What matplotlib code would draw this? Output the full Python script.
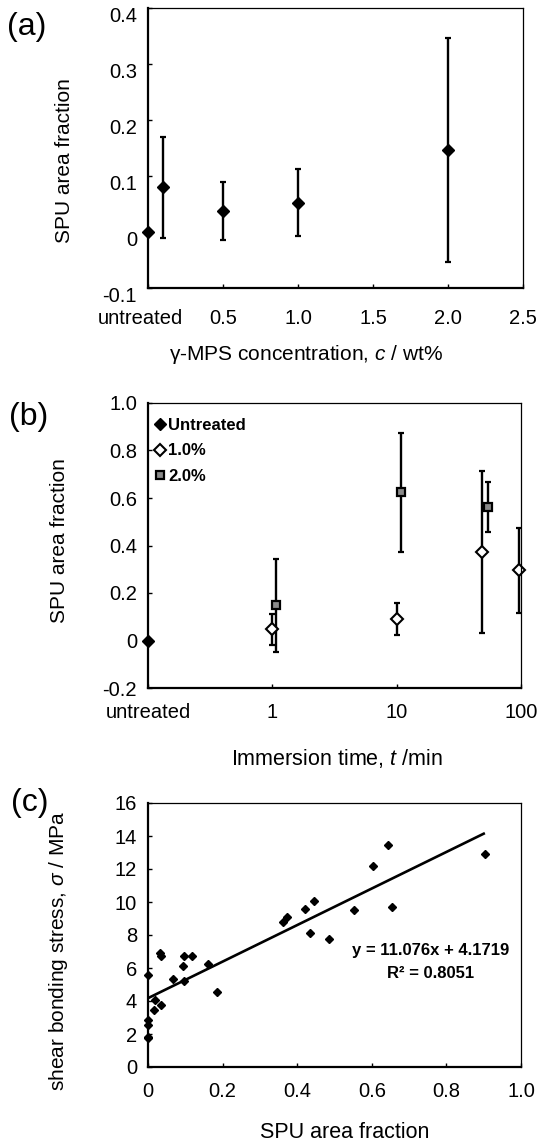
import numpy as np
import matplotlib
matplotlib.use("Agg")
import matplotlib.pyplot as plt
from matplotlib.transforms import ScaledTranslation

plt.rcParams['font.family'] = ['Liberation Sans', 'DejaVu Sans']
plt.rcParams['mathtext.fontset'] = 'custom'
plt.rcParams['mathtext.rm'] = 'Liberation Sans'
plt.rcParams['mathtext.it'] = 'Liberation Sans:italic'
plt.rcParams['mathtext.bf'] = 'Liberation Sans:bold'

# (a) SPU area fraction vs gamma-MPS concentration
conc_untreated = [0.0]
frac_untreated_a = [0.0]
conc = [0.1, 0.5, 1.0, 2.0]
frac_a = [0.080, 0.037, 0.052, 0.147]
err_a = [0.090, 0.052, 0.060, 0.200]

# (b) SPU area fraction vs immersion time (untreated drawn at t = 0.1)
time_untreated = [0.1]
frac_untreated_b = [0.0]
time_10 = [1.0, 10.0, 49.0, 97.0]
frac_10 = [0.048, 0.090, 0.373, 0.295]
err_10 = [0.065, 0.067, 0.340, 0.178]
time_20 = [1.07, 10.8, 54.0]
frac_20 = [0.148, 0.624, 0.562]
err_20 = [0.196, 0.250, 0.107]

# (c) shear bonding stress vs SPU area fraction
spu_c = [0.0, 0.0, 0.0, 0.0, 0.0, 0.018, 0.015, 0.034, 0.032, 0.036, 0.067,
         0.094, 0.097, 0.097, 0.118, 0.162, 0.185, 0.361, 0.372, 0.421, 0.433,
         0.444, 0.484, 0.551, 0.602, 0.643, 0.655, 0.903]
stress_c = [5.58, 2.84, 2.54, 1.84, 1.74, 4.08, 3.48, 3.78, 6.88, 6.74, 5.34,
            6.14, 6.74, 5.24, 6.70, 6.24, 4.54, 8.80, 9.12, 9.58, 8.10,
            10.08, 7.78, 9.50, 12.20, 13.44, 9.70, 12.90]
fit_slope, fit_icpt = 11.076, 4.1719
fit_x = [0.0, 0.9]

W, H = 544, 1145
fig = plt.figure(figsize=(W / 100, H / 100), dpi=100)


def px_axes(left, right, top, bottom):
    return [left / W, 1 - bottom / H, (right - left) / W, (bottom - top) / H]


def px(x, y):
    return x / W, 1 - y / H


def style_axes(ax, xpad):
    for side in ['left', 'bottom']:
        ax.spines[side].set_linewidth(1.6)
    for side in ['top', 'right']:
        ax.spines[side].set_linewidth(0.9)
    ax.tick_params(direction='in', length=3, width=1.0, labelsize=14.5,
                   top=False, right=False)
    ax.tick_params(axis='x', pad=xpad)
    ax.tick_params(axis='y', pad=8)
    ax.minorticks_off()


ebar_kw = dict(fmt='none', ecolor='black', elinewidth=1.7, capsize=2.4,
               capthick=1.6)

# ---- (a)
ax1 = fig.add_axes(px_axes(148, 523, 8, 288))
ax1.errorbar(conc, frac_a, yerr=err_a, **ebar_kw)
ax1.plot(conc, frac_a, 'D', color='black', ms=6.5)
ax1.plot(conc_untreated, frac_untreated_a, 'D', color='black', ms=6.5,
         clip_on=False)
ax1.set_xlim(0, 2.5)
ax1.set_ylim(-0.1, 0.4)
ax1.set_xticks([0, 0.5, 1.0, 1.5, 2.0, 2.5])
ax1.set_xticklabels(['untreated', '0.5', '1.0', '1.5', '2.0', '2.5'])
ax1.set_yticks([-0.1, 0, 0.1, 0.2, 0.3, 0.4])
ax1.set_yticklabels(['-0.1', '0', '0.1', '0.2', '0.3', '0.4'])
style_axes(ax1, 15)
ax1.set_ylabel('SPU area fraction', fontsize=15)
ax1.yaxis.set_label_coords(*px(74, 161), transform=fig.transFigure)
ax1.set_xlabel('γ-MPS concentration, $c$ / wt%', fontsize=15)
ax1.xaxis.set_label_coords(*px(306, 354), transform=fig.transFigure)
ax1.xaxis.label.set_va('center')
for lab in ax1.get_yticklabels():
    lab.set_transform(lab.get_transform() + ScaledTranslation(0, -0.07, fig.dpi_scale_trans))
ax1.get_xticklabels()[0].set_transform(
    ax1.get_xticklabels()[0].get_transform() + ScaledTranslation(-0.08, 0, fig.dpi_scale_trans))

# ---- (b)
ax2 = fig.add_axes(px_axes(148, 521, 403, 688))
ax2.set_xscale('log')
ax2.errorbar(time_10, frac_10, yerr=err_10, **ebar_kw)
ax2.errorbar(time_20, frac_20, yerr=err_20, **ebar_kw)
ax2.plot(time_untreated, frac_untreated_b, 'D', color='black', ms=6.5,
         clip_on=False, label='Untreated')
ax2.plot(time_10, frac_10, 'D', mfc='white', mec='black', mew=1.5, ms=6.5,
         clip_on=False, label='1.0%')
ax2.plot(time_20, frac_20, 's', mfc='#8a8a8a', mec='black', mew=1.6, ms=6,
         label='2.0%')
ax2.set_xlim(0.1, 100)
ax2.set_ylim(-0.2, 1.0)
ax2.set_xticks([0.1, 1, 10, 100])
ax2.set_xticklabels(['untreated', '1', '10', '100'])
ax2.set_yticks([-0.2, 0, 0.2, 0.4, 0.6, 0.8, 1.0])
ax2.set_yticklabels(['-0.2', '0', '0.2', '0.4', '0.6', '0.8', '1.0'])
style_axes(ax2, 11)
ax2.set_ylabel('SPU area fraction', fontsize=15)
ax2.yaxis.set_label_coords(*px(69, 541), transform=fig.transFigure)
ax2.set_xlabel('Immersion time, $t$ /min', fontsize=15.5)
ax2.xaxis.set_label_coords(*px(337, 758), transform=fig.transFigure)
ax2.xaxis.label.set_va('center')
ax2.legend(loc='upper left', bbox_to_anchor=px(154, 418),
           bbox_transform=fig.transFigure, frameon=False,
           prop={'weight': 'bold', 'size': 12}, handlelength=0.7,
           handletextpad=0.15, labelspacing=0.62, borderpad=0,
           borderaxespad=0)

# ---- (c)
ax3 = fig.add_axes(px_axes(148, 521, 803, 1067))
ax3.plot(spu_c, stress_c, 'D', color='black', ms=4.2, clip_on=False)
fit_y = [fit_slope * v + fit_icpt for v in fit_x]
ax3.plot(fit_x, fit_y, color='black', lw=1.9)
ax3.set_xlim(0, 1.0)
ax3.set_ylim(0, 16)
ax3.set_xticks([0, 0.2, 0.4, 0.6, 0.8, 1.0])
ax3.set_xticklabels(['0', '0.2', '0.4', '0.6', '0.8', '1.0'])
ax3.set_yticks(np.arange(0, 17, 2))
style_axes(ax3, 11)
ax3.set_ylabel('shear bonding stress, $σ$ / MPa', fontsize=15)
ax3.yaxis.set_label_coords(*px(70, 951), transform=fig.transFigure)
ax3.set_xlabel('SPU area fraction', fontsize=15.5)
ax3.xaxis.set_label_coords(*px(345, 1133), transform=fig.transFigure)
ax3.xaxis.label.set_va('center')
ax3.text(*px(431, 951), 'y = 11.076x + 4.1719', transform=fig.transFigure,
         ha='center', va='center', fontsize=12, fontweight='bold')
ax3.text(*px(431, 973), 'R² = 0.8051', transform=fig.transFigure,
         ha='center', va='center', fontsize=12, fontweight='bold')

# panel labels
for lab, (x, y) in zip(['(a)', '(b)', '(c)'], [(27, 27), (29, 417), (30, 803)]):
    fig.text(*px(x, y), lab, fontsize=23, ha='center', va='center')

fig.savefig('out.png', dpi=100)
